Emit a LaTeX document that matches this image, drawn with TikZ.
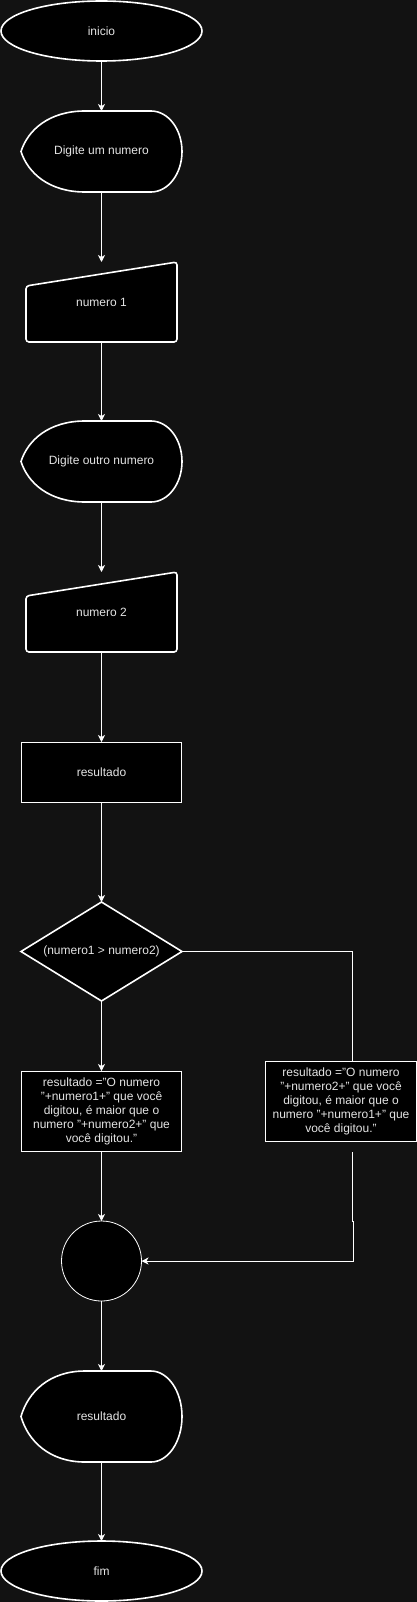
\documentclass[tikz,border=0pt]{standalone}
\usepackage{fontspec}
\setmainfont{Liberation Sans}
\usetikzlibrary{shapes.geometric,arrows.meta,positioning,backgrounds}
\definecolor{bgdark}{RGB}{18,18,18}
\definecolor{txtgray}{RGB}{228,228,228}
\tikzstyle{fc}=[inner sep=0pt, outer sep=0pt, text=txtgray, font=\fontsize{12}{14}\selectfont, align=center]
\tikzstyle{term}=[fc, ellipse, draw=white, fill=black, line width=1.6pt, minimum width=201pt, minimum height=60pt]
\tikzstyle{disp}=[fc, rectangle, minimum width=161pt]
\tikzstyle{manin}=[fc, rectangle, minimum width=151pt, minimum height=80pt]
\tikzstyle{proc}=[fc, rectangle, draw=white, fill=black, line width=1pt, minimum height=80pt]
\tikzstyle{decis}=[fc, diamond, shape aspect=1.626, draw=white, fill=black, line width=1.6pt, minimum width=161pt, minimum height=99pt]
\tikzstyle{conn}=[fc, circle, draw=white, fill=black, line width=0.8pt, minimum size=80pt]
\tikzstyle{outline}=[draw=white, fill=black, line width=1.6pt]
\tikzstyle{wire}=[white, line width=0.9pt]
\tikzstyle{flow}=[wire, ->, >={Stealth[length=7pt,width=7pt,inset=2pt]}]
% display and manual input outlines, drawn behind the text nodes
\newcommand{\dispshape}[2]{%
  \draw[outline, shift={(#1.center)}] (-80.5,0) .. controls (-73.5,#2*0.27) and (-52,#2/2) .. (-16.5,#2/2)
    -- (49.5,#2/2) arc[start angle=90, end angle=-90, x radius=31, y radius=#2/2]
    -- (-16.5,-#2/2) .. controls (-52,-#2/2) and (-73.5,-#2*0.27) .. cycle;}
\newcommand{\maninshape}[1]{%
  \draw[outline, rounded corners=3pt, shift={(#1.center)}] (-75.5,16) -- (75.5,40)
    -- (75.5,-40) -- (-75.5,-40) -- cycle;}

\begin{document}
\begin{tikzpicture}[x=1pt,y=1pt]
    \useasboundingbox (0,0) rectangle (417,-1602);
    \node (ini) [term] at (101.5,-31) {inicio};
    \node (dig1) [disp, minimum height=81pt, below=50pt of ini] {Digite um numero};
    \node (num1) [manin, below=70pt of dig1] {numero 1};
    \node (dig2) [disp, minimum height=81pt, below=79pt of num1] {Digite outro numero};
    \node (num2) [manin, below=70pt of dig2] {numero 2};
    \node (res) [proc, minimum width=160pt, minimum height=60pt, below=90pt of num2] {resultado};
    \node (cmp) [decis, below=100pt of res] {(numero1 > numero2)};
    \node (maior1) [proc, minimum width=160pt, below=70pt of cmp]
        {resultado ="O numero\\"+numero1+" que você\\digitou, é maior que o\\numero "+numero2+" que\\você digitou."};
    \node (maior2) [proc, minimum width=151pt, right=84pt of maior1, yshift=10pt]
        {resultado ="O numero\\"+numero2+" que você\\digitou, é maior que o\\numero "+numero1+" que\\você digitou."};
    \node (junc) [conn, below=70pt of maior1] {};
    \node (out) [disp, minimum height=91pt, below=70pt of junc] {resultado};
    \node (fim) [term, below=79pt of out] {fim};
    \coordinate (rout) at ([xshift=11pt,yshift=-11pt]maior2.south);
    \coordinate (rjog) at (rout |- junc.north);

    \draw[flow] (ini.south) -- (dig1.north);
    \draw[flow] (dig1.south) -- (num1.north);
    \draw[flow] (num1.south) -- (dig2.north);
    \draw[flow] (dig2.south) -- (num2.north);
    \draw[flow] (num2.south) -- (res.north);
    \draw[flow] (res.south) -- (cmp.north);
    \draw[flow] (cmp.south) -- (maior1.north);
    \draw[wire] (cmp.east) -| ([xshift=11pt]maior2.north);
    \draw[flow] (maior1.south) -- (junc.north);
    \draw[flow] (rout) -- (rjog) -- ++(1,0) |- (junc.east);
    \draw[flow] (junc.south) -- (out.north);
    \draw[flow] (out.south) -- (fim.north);

    \begin{pgfonlayer}{background}
        \fill[bgdark] (0,0) rectangle (417,-1602);
        \dispshape{dig1}{81}
        \dispshape{dig2}{81}
        \dispshape{out}{91}
        \maninshape{num1}
        \maninshape{num2}
    \end{pgfonlayer}
\end{tikzpicture}
\end{document}
